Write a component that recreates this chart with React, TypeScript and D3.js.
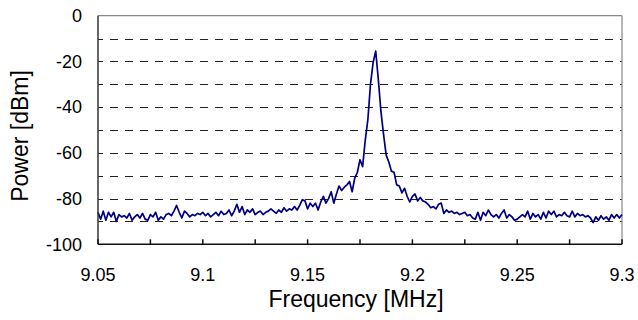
import React from "react";
import * as d3 from "d3";

const FREQ_START = 9.05;
const FREQ_STEP = 0.00125;
const POWER_DBM = [
  -86, -89, -85.5, -89.5, -86, -88, -86, -90, -87, -88,
  -87.5, -88.5, -86.5, -89.5, -88, -87, -88.5, -86.5, -89, -89.5,
  -87, -88, -86, -89.5, -88, -89, -87, -86.5, -87.5, -85.5,
  -83, -86, -88.5, -85.5, -86.5, -88, -87, -87.5, -86.5, -87,
  -86, -87.5, -86.5, -88, -87, -86, -87.5, -85.5, -87, -86.5,
  -85, -87.5, -85.5, -82.5, -86, -83.5, -87, -85, -86, -84.5,
  -87, -86, -85.5, -87, -86, -85.5, -84.5, -85.5, -86.5, -85,
  -86, -84, -85.5, -84.5, -85, -83.5, -85, -83, -80.5, -81,
  -84.5, -82, -83.5, -82, -85, -81.5, -79, -82, -80, -77,
  -82, -78, -74.5, -76.5, -75, -74, -72.5, -77, -71, -68.5,
  -63, -66, -54.5, -45.5, -30, -20.5, -15.5, -28, -42, -52,
  -61, -64, -68, -68.5, -74, -74.5, -77.5, -75.5, -79, -81.5,
  -79, -78, -81, -79.5, -81, -81.5, -82.5, -84, -83.5, -84.5,
  -82.5, -82, -86.5, -85, -86, -85.5, -86.5, -86, -87, -86.5,
  -86, -87.5, -87, -88.5, -89, -86, -89.5, -86, -87.5, -85,
  -87, -88, -87, -88.5, -86.5, -85, -88.5, -87, -88, -89.5,
  -89, -88, -87, -88, -85.5, -89, -86.5, -88, -87, -89,
  -86, -88.5, -85.5, -87, -85.5, -88, -87, -87.5, -86, -87.5,
  -88, -85.5, -88, -86.5, -87.5, -87, -88, -87.5, -88.5, -90.5,
  -88, -89.5, -87.5, -89, -88, -89.5, -87, -88.5, -87, -88.5,
  -87,
];
const X_TICK_LABELS = [9.05, 9.1, 9.15, 9.2, 9.25, 9.3];
const X_MINOR_TICKS = [9.05, 9.075, 9.1, 9.125, 9.15, 9.175, 9.2, 9.225, 9.25, 9.275, 9.3];
const Y_TICK_LABELS = [0, -20, -40, -60, -80, -100];
const Y_GRID = [-10, -20, -30, -40, -50, -60, -70, -80, -90];

const W = 638;
const H = 320;
const L = 98;
const R = 622;
const T = 15.7;
const B = 244.3;

export default function App() {
  const x = d3.scaleLinear().domain([9.05, 9.3]).range([L, R]);
  const y = d3.scaleLinear().domain([-100, 0]).range([B, T]);
  const data = POWER_DBM.map((v, i) => ({ f: FREQ_START + i * FREQ_STEP, v }));
  const line = d3
    .line<{ f: number; v: number }>()
    .x((d) => x(d.f))
    .y((d) => y(d.v));
  const font = "Arial, 'Liberation Sans', sans-serif";
  return (
    <svg
      width={W}
      height={H}
      style={{ position: "absolute", left: 0, top: 0, background: "#fff" }}
      fontFamily={font}
    >
      <rect x={0} y={0} width={W} height={H} fill="#fff" />
      {Y_GRID.map((g) => (
        <line
          key={g}
          x1={L}
          x2={R}
          y1={Math.round(y(g)) + 0.5}
          y2={Math.round(y(g)) + 0.5}
          stroke="#222"
          strokeWidth={1}
          strokeDasharray="8,7"
          strokeDashoffset={3}
        />
      ))}
      <line x1={L} x2={R} y1={T} y2={T} stroke="#888" strokeWidth={1.2} />
      <line x1={R} x2={R} y1={T} y2={B} stroke="#888" strokeWidth={1.2} />
      <path d={line(data) || ""} fill="none" stroke="#000080" strokeWidth={1.7} strokeLinejoin="round" />
      <line x1={L} x2={L} y1={T} y2={B} stroke="#333" strokeWidth={1.5} />
      <line x1={L} x2={R} y1={B} y2={B} stroke="#111" strokeWidth={1.5} />
      {X_MINOR_TICKS.map((t) => (
        <line key={t} x1={x(t)} x2={x(t)} y1={B} y2={B - 5} stroke="#111" strokeWidth={1.5} />
      ))}
      {Y_TICK_LABELS.map((t) => (
        <text key={t} x={82} y={y(t)} dy="0.35em" textAnchor="end" fontSize={18} fill="#000">
          {t}
        </text>
      ))}
      {X_TICK_LABELS.map((t) => (
        <text key={t} x={x(t)} y={281} textAnchor="middle" fontSize={18} fill="#000">
          {d3.format("")(t)}
        </text>
      ))}
      <text x={356} y={307} textAnchor="middle" fontSize={23} fill="#000">
        Frequency [MHz]
      </text>
      <text
        transform={`translate(28, 136) rotate(-90)`}
        textAnchor="middle"
        fontSize={23}
        fill="#000"
      >
        Power [dBm]
      </text>
    </svg>
  );
}
